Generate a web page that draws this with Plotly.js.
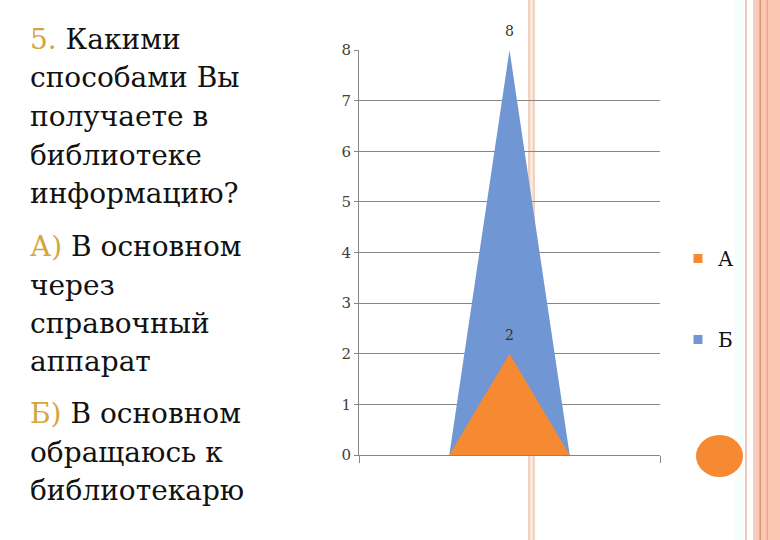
<!DOCTYPE html>
<html>
<head>
<meta charset="utf-8">
<script src="https://cdn.plot.ly/plotly-3.0.1.min.js"></script>
<style>html,body{margin:0;padding:0;background:#fff;}#chart{width:780px;height:540px;}</style>
</head>
<body>
<div id="chart"></div>
<script>
// ---- data ----
var categories = [1, 2, 3];
var seriesNames = ['А', 'Б'];
var valuesA = [0, 2, 0];
var valuesB = [0, 8, 0];
var yTicks = [0, 1, 2, 3, 4, 5, 6, 7, 8];
var textLines = [
  '<span style="color:#d4a640">5.</span> Какими',
  'способами Вы',
  'получаете в',
  'библиотеке',
  'информацию?',
  '<span style="color:#d4a640">А)</span> В основном',
  'через',
  'справочный',
  'аппарат',
  '<span style="color:#d4a640">Б)</span> В основном',
  'обращаюсь к',
  'библиотекарю'
];

// ---- layout helpers (pixel -> paper) ----
var L = 359, R = 660, T = 50, B = 455;
function X(px) { return (px - L) / (R - L); }
function Y(py) { return (B - py) / (B - T); }

var orange = '#f68a33', blue = '#7096d4';
var serif = 'DejaVu Serif, Liberation Serif, serif';

var traces = [
  { x: categories, y: valuesB, name: seriesNames[1], type: 'scatter', mode: 'lines',
    fill: 'tozeroy', fillcolor: blue, line: { width: 0, color: blue },
    showlegend: false, hoverinfo: 'none' },
  { x: categories, y: valuesA, name: seriesNames[0], type: 'scatter', mode: 'lines',
    fill: 'tozeroy', fillcolor: orange, line: { width: 0, color: orange },
    showlegend: false, hoverinfo: 'none' },
  { x: [null], y: [null], name: seriesNames[0], type: 'scatter', mode: 'markers',
    marker: { symbol: 'square', size: 9, color: orange }, legendgroup: 'a', showlegend: true },
  { x: [null], y: [null], name: seriesNames[1], type: 'scatter', mode: 'markers',
    marker: { symbol: 'square', size: 9, color: blue }, legendgroup: 'b', showlegend: true }
];

var annotations = textLines.map(function (t, i) {
  var centers = [40, 78, 117, 155, 193, 246, 285, 323, 361, 413, 452, 490];
  return { xref: 'paper', yref: 'paper', x: X(28), y: Y(centers[i]), xanchor: 'left', yanchor: 'middle',
    text: t, showarrow: false, font: { family: serif, size: 28, color: '#111' } };
});

// data labels (nonzero points only)
[valuesA, valuesB].forEach(function (vals) {
  vals.forEach(function (v, i) {
    if (v) annotations.push({ xref: 'x', yref: 'y', x: categories[i], y: v, yshift: 19,
      text: String(v), showarrow: false, font: { family: serif, size: 14, color: '#333' } });
  });
});

var shapes = [
  // vertical band in middle
  { type: 'rect', xref: 'paper', yref: 'paper', x0: X(528), x1: X(535), y0: Y(0), y1: Y(540),
    fillcolor: '#f2d3c3', line: { width: 0 }, layer: 'below' },
  { type: 'rect', xref: 'paper', yref: 'paper', x0: X(530.5), x1: X(532.5), y0: Y(0), y1: Y(540),
    fillcolor: '#fbeee6', line: { width: 0 }, layer: 'below' },
  // right border decorations
  { type: 'rect', xref: 'paper', yref: 'paper', x0: X(735), x1: X(744), y0: Y(0), y1: Y(540),
    fillcolor: '#f6fdfd', line: { width: 0 }, layer: 'below' },
  { type: 'rect', xref: 'paper', yref: 'paper', x0: X(745), x1: X(747), y0: Y(0), y1: Y(540),
    fillcolor: '#efc6bd', line: { width: 0 }, layer: 'below' },
  { type: 'rect', xref: 'paper', yref: 'paper', x0: X(753), x1: X(758), y0: Y(0), y1: Y(540),
    fillcolor: '#f3cdbf', line: { width: 0 }, layer: 'below' },
  { type: 'rect', xref: 'paper', yref: 'paper', x0: X(758), x1: X(780), y0: Y(0), y1: Y(540),
    fillcolor: '#fbc7b0', line: { width: 0 }, layer: 'below' },
  { type: 'rect', xref: 'paper', yref: 'paper', x0: X(759.5), x1: X(761), y0: Y(0), y1: Y(540),
    fillcolor: '#d99a7a', line: { width: 0 }, layer: 'below' },
  { type: 'rect', xref: 'paper', yref: 'paper', x0: X(766.5), x1: X(768), y0: Y(0), y1: Y(540),
    fillcolor: '#e8a98a', line: { width: 0 }, layer: 'below' },
  // orange circle
  { type: 'circle', xref: 'paper', yref: 'paper', x0: X(696), x1: X(743), y0: Y(477), y1: Y(435),
    fillcolor: orange, line: { width: 0 }, layer: 'above' }
];

var layout = {
  width: 780, height: 540,
  margin: { l: L, r: 780 - R, t: T, b: 540 - B, pad: 0 },
  paper_bgcolor: '#ffffff', plot_bgcolor: 'rgba(0,0,0,0)',
  showlegend: true,
  legend: { x: X(678), y: Y(239), xanchor: 'left', yanchor: 'top', traceorder: 'grouped',
    tracegroupgap: 52, itemwidth: 30, font: { family: serif, size: 20, color: '#111' },
    bgcolor: 'rgba(0,0,0,0)' },
  xaxis: { type: 'linear', range: [-0.5, 4.5], showgrid: false, zeroline: false,
    showline: true, linecolor: '#868686', linewidth: 1,
    tickmode: 'array', tickvals: [-0.5, 4.5], ticks: 'outside', ticklen: 7, tickcolor: '#868686',
    showticklabels: false, fixedrange: true },
  yaxis: { range: [0, 8], tickmode: 'array', tickvals: yTicks, ticktext: yTicks.map(String),
    showgrid: true, gridcolor: '#868686', gridwidth: 1, zeroline: false,
    showline: true, linecolor: '#868686', linewidth: 1, ticks: 'outside', ticklen: 4, tickcolor: '#868686',
    tickfont: { family: serif, size: 15, color: '#404040' }, fixedrange: true },
  annotations: annotations,
  shapes: shapes
};

Plotly.newPlot('chart', traces, layout, { staticPlot: true, displayModeBar: false });
</script>
</body>
</html>
